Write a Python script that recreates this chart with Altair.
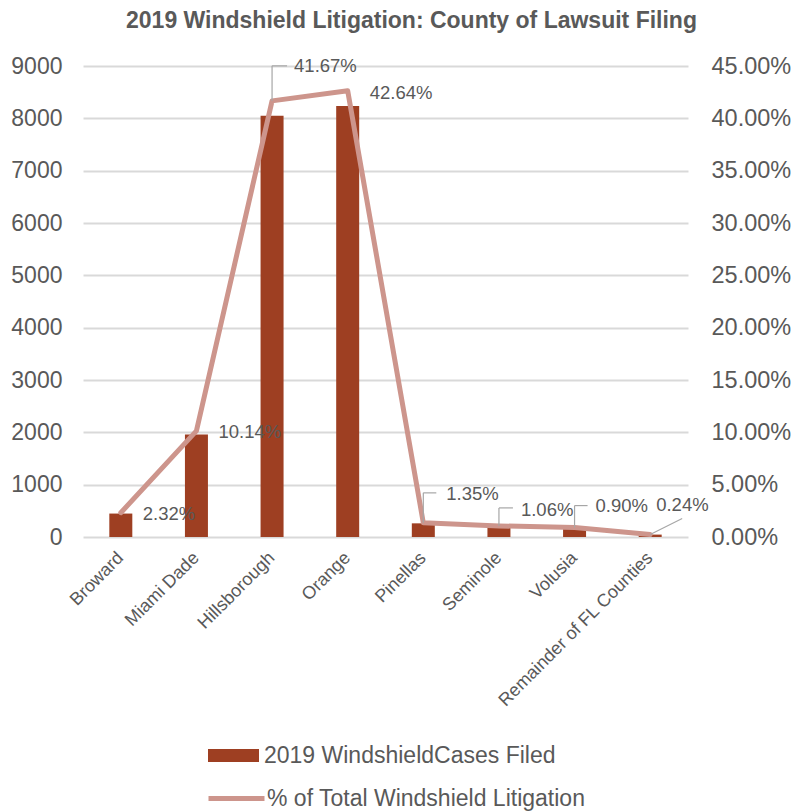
import altair as alt
import pandas as pd

# ---- data ----
counties = ["Broward", "Miami Dade", "Hillsborough", "Orange", "Pinellas",
            "Seminole", "Volusia", "Remainder of FL Counties"]
cases = [448, 1959, 8051, 8238, 261, 205, 174, 46]
pct_total = [0.0232, 0.1014, 0.4167, 0.4264, 0.0135, 0.0106, 0.0090, 0.0024]
left_ticks = [0, 1000, 2000, 3000, 4000, 5000, 6000, 7000, 8000, 9000]
right_ticks = [0, 0.05, 0.10, 0.15, 0.20, 0.25, 0.30, 0.35, 0.40, 0.45]

BAR_NAME = "2019 WindshieldCases Filed"
LINE_NAME = "% of Total Windshield Litigation"
TITLE = "2019 Windshield  Litigation: County of Lawsuit Filing"

df = pd.DataFrame({
    "county": counties,
    "cases": cases,
    "pct": pct_total,
    "bar_series": BAR_NAME,
    "line_series": LINE_NAME,
})

# ---- style ----
FONT = "Liberation Sans"
TXT = "#595959"
BAR_COLOR = "#9E3F22"
LINE_COLOR = "#CD958C"
LEADER = "#A6A6A6"

# label placement (pixel offsets from each point) and leader lines
label_offsets = {
    "Broward": (22, 1),
    "Miami Dade": (22, 1),
    "Hillsborough": (22, -35),
    "Orange": (22, 2),
    "Pinellas": (23, -29),
    "Seminole": (22, -16),
    "Volusia": (21, -22),
    "Remainder of FL Counties": (6, -29),
}
# (up, right) elbow leaders
elbow_leaders = {
    "Hillsborough": (35, 15),
    "Pinellas": (30, 13),
    "Seminole": (18, 14),
    "Volusia": (22, 13),
}
diag_leaders = {"Remainder of FL Counties": (32, -16)}

x_enc = alt.X(
    "county:N", sort=counties,
    scale=alt.Scale(paddingInner=0.7, paddingOuter=0.35),
    axis=alt.Axis(title=None, labelAngle=-45, labelFontSize=18, labelColor=TXT,
                  labelFont=FONT, ticks=False, domain=False, labelPadding=18,
                  labelLimit=0, labelAlign="right", labelBaseline="middle"),
)

bars = alt.Chart(df).mark_bar(size=23).encode(
    x=x_enc,
    y=alt.Y("cases:Q", scale=alt.Scale(domain=[0, 9000], nice=False),
            axis=alt.Axis(values=left_ticks, format="d", title=None, labelFontSize=23,
                          labelColor=TXT, labelFont=FONT, labelPadding=21,
                          domain=False, ticks=False, grid=True,
                          gridColor="#D9D9D9", gridWidth=2)),
    fill=alt.Fill("bar_series:N", scale=alt.Scale(range=[BAR_COLOR]),
                  legend=alt.Legend(title=None, orient="none", legendX=125, legendY=664,
                                    symbolType="M-1,-0.255H1V0.255H-1Z",
                                    symbolSize=2601, symbolStrokeWidth=0,
                                    labelFontSize=23, labelColor=TXT, labelFont=FONT,
                                    labelOffset=5, padding=0, labelLimit=0)),
)

y_right = alt.Y("pct:Q", scale=alt.Scale(domain=[0, 0.45], nice=False),
                axis=alt.Axis(values=right_ticks, format=".2%", orient="right",
                              title=None, labelFontSize=23.5, labelColor=TXT,
                              labelFont=FONT, labelPadding=23, domain=False,
                              ticks=False, grid=False))

line = alt.Chart(df).mark_line(strokeWidth=5, strokeCap="round", strokeJoin="round").encode(
    x=alt.X("county:N", sort=counties),
    y=y_right,
    stroke=alt.Stroke("line_series:N", scale=alt.Scale(range=[LINE_COLOR]),
                      legend=alt.Legend(title=None, orient="none", legendX=123, legendY=702,
                                        symbolType="stroke", symbolSize=3136,
                                        symbolStrokeWidth=5,
                                        labelFontSize=23, labelColor=TXT, labelFont=FONT,
                                        labelOffset=0, padding=0, labelLimit=0)),
)

inner_layers = [line]

for c, (up, right) in elbow_leaders.items():
    base = alt.Chart(df).transform_filter(alt.datum.county == c)
    inner_layers.append(base.mark_rule(color=LEADER, strokeWidth=1.2, y2Offset=-up).encode(
        x=alt.X("county:N", sort=counties), y=y_right, y2="pct:Q"))
    inner_layers.append(base.mark_rule(color=LEADER, strokeWidth=1.2, yOffset=-up,
                                       y2Offset=-up, x2Offset=right).encode(
        x=alt.X("county:N", sort=counties), x2="county:N", y=y_right, y2="pct:Q"))

for c, (right, up) in diag_leaders.items():
    base = alt.Chart(df).transform_filter(alt.datum.county == c)
    inner_layers.append(base.mark_rule(color=LEADER, strokeWidth=1.2, x2Offset=right,
                                       y2Offset=up).encode(
        x=alt.X("county:N", sort=counties), x2="county:N", y=y_right, y2="pct:Q"))

for c, (dx, dy) in label_offsets.items():
    inner_layers.append(
        alt.Chart(df).transform_filter(alt.datum.county == c)
        .mark_text(align="left", baseline="middle", dx=dx, dy=dy, fontSize=18.5,
                   font=FONT, color=TXT)
        .encode(x=alt.X("county:N", sort=counties), y=y_right,
                text=alt.Text("pct:Q", format=".2%"))
    )

inner = alt.layer(*inner_layers)

chart = alt.layer(bars, inner).resolve_scale(y="independent").properties(
    width=605, height=471,
    title=alt.Title(TITLE, fontSize=23, fontWeight="bold", color=TXT, font=FONT,
                    anchor="middle", offset=21, dx=26),
    padding={"left": 83, "top": 66, "right": 106, "bottom": 275},
    autosize=alt.AutoSizeParams(type="none"),
).configure_view(stroke=None)

chart.save("out.html", embed_options={"renderer": "svg", "actions": False})
